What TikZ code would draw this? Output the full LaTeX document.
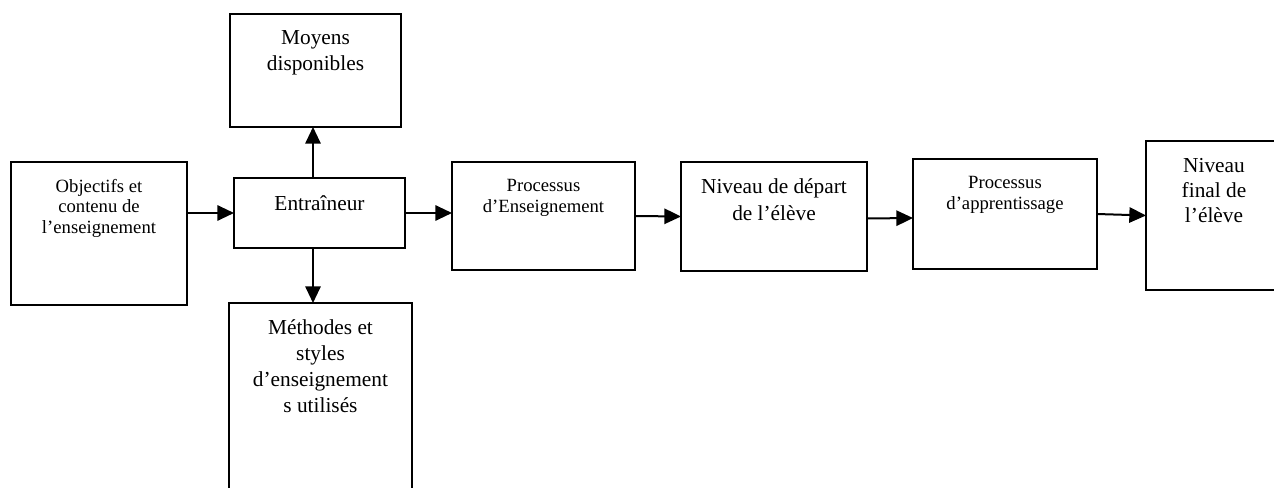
\documentclass[tikz,border=0pt]{standalone}
\usepackage{fontspec}
\setmainfont{Liberation Serif}
\usetikzlibrary{arrows.meta,fit}
\tikzset{
  boxnode/.style={draw=black,line width=1pt,inner sep=0pt,outer sep=0pt,fill=none},
  bigtxt/.style={align=center,inner sep=0pt,anchor=north,font=\fontsize{16}{19.5}\selectfont},
  smalltxt/.style={align=center,inner sep=0pt,anchor=north,font=\fontsize{14}{15.5}\selectfont},
  conn/.style={line width=1.5pt,-{Triangle[length=12.5pt,width=11.5pt]},shorten >=0pt}
}
\begin{document}
\begin{tikzpicture}[x=0.75pt,y=-0.75pt]
\useasboundingbox (0,0) rectangle (1274,488);
\clip (0,0) rectangle (1274,488);
\fill[white] (0,0) rectangle (1274,488);
% boxes
\node[boxnode,fit={(11,162) (187,305)}] (obj) {};
\node[boxnode,fit={(234,178) (405,248)}] (ent) {};
\node[boxnode,fit={(230,14) (401,127)}] (moy) {};
\node[boxnode,fit={(229,303) (412,520)}] (meth) {};
\node[boxnode,fit={(452,162) (635,270)}] (pe) {};
\node[boxnode,fit={(681,162) (867,271)}] (nd) {};
\node[boxnode,fit={(913,159) (1097,269)}] (pa) {};
\node[boxnode,fit={(1146,141) (1282,290)}] (nf) {};
% texts
\node[smalltxt] (objt) at ([yshift=-12.5pt]obj.north) {Objectifs et\\contenu de\\l’enseignement};
\node[bigtxt] (entt) at ([yshift=-13pt]ent.north) {Entraîneur};
\node[bigtxt] (moyt) at ([yshift=-12pt]moy.north) {Moyens\\disponibles};
\node[bigtxt] (metht) at ([yshift=-12.5pt]meth.north) {Méthodes et\\styles\\d’enseignement\\s utilisés};
\node[smalltxt] (pet) at ([yshift=-13pt]pe.north) {Processus\\d’Enseignement};
\node[bigtxt,font=\fontsize{16}{20.5}\selectfont] (ndt) at ([yshift=-12pt]nd.north) {Niveau de départ\\de l’élève};
\node[smalltxt] (pat) at ([yshift=-13pt]pa.north) {Processus\\d’apprentissage};
\node[bigtxt,font=\fontsize{16}{19}\selectfont] (nft) at ([yshift=-12.5pt]nf.north) {Niveau\\final de\\l’élève};
% connectors
\coordinate (upx) at (313,0);
\draw[conn] (obj.east |- ent.west) -- (ent.west);
\draw[conn] (ent.north -| upx) -- (moy.south -| upx);
\draw[conn] (ent.south -| upx) -- (meth.north -| upx);
\draw[conn] (ent.east) -- (pe.west |- ent.east);
\draw[conn] (pe.east) -- (nd.west);
\draw[conn] ([yshift=-1.5pt]nd.east) -- ([yshift=-3pt]pa.west);
\draw[conn] (pa.east) -- (nf.west);
\end{tikzpicture}
\end{document}
